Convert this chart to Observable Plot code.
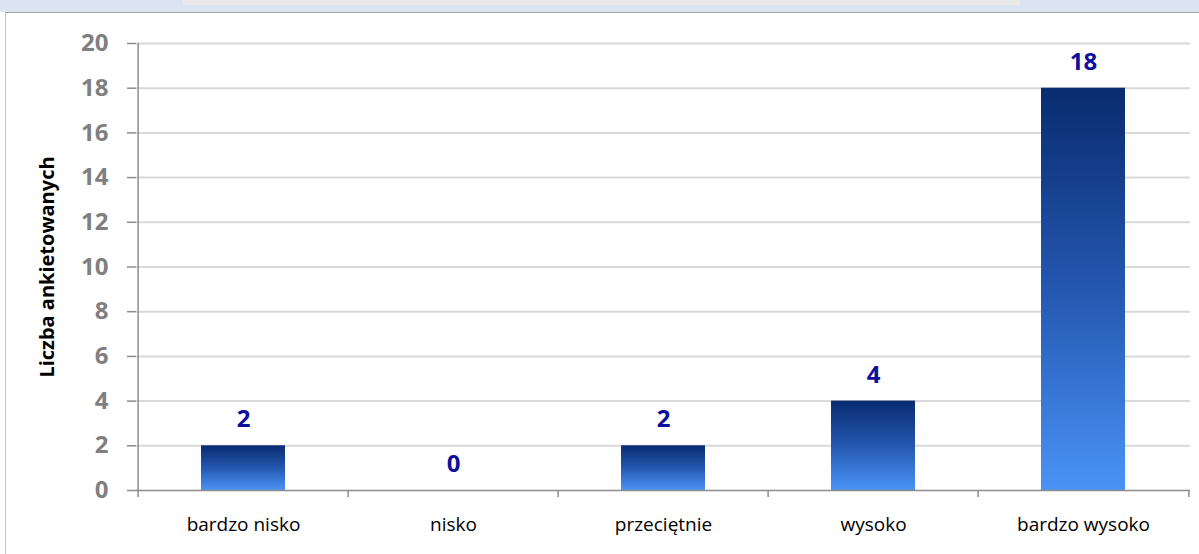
<!DOCTYPE html>
<html><head><meta charset="utf-8">
<script src="https://cdn.jsdelivr.net/npm/d3@7"></script>
<script src="https://cdn.jsdelivr.net/npm/@observablehq/plot@0.6"></script>
<style>
html,body{margin:0;padding:0;background:#fff;width:1199px;height:554px;overflow:hidden;font-family:"Open Sans",sans-serif}
#band{position:absolute;left:0;top:0;width:1199px;height:12px;background:#dbe5f1}
#titlebox{position:absolute;left:183px;top:0;width:837px;height:5px;background:#e9e9e9}
#frame{position:absolute;left:5px;top:12px;width:1194px;height:542px;border-top:1px solid #a6a6a6;border-left:1px solid #c4c4c4}
#chart{position:absolute;left:0;top:14px}
</style></head><body>
<div id="band"><div id="titlebox"></div></div>
<div id="frame"></div>
<div id="chart"></div>
<script>
const categories = ["bardzo nisko", "nisko", "przeciętnie", "wysoko", "bardzo wysoko"];
const counts = [2, 0, 2, 4, 18];
const yTicks = [0, 2, 4, 6, 8, 10, 12, 14, 16, 18, 20];
const yLabel = "Liczba ankietowanych";

const data = categories.map((c, i) => ({category: c, value: counts[i]}));

const W = 1199, H = 540, mL = 136, mR = 9, mT = 29, mB = 64;
const step = (W - mL - mR) / categories.length;
const frameH = H - mT - mB;

const gradient = () => {
  const defs = document.createElementNS("http://www.w3.org/2000/svg", "defs");
  defs.innerHTML = `<linearGradient id="barGrad" x1="0" y1="0" x2="0" y2="1">
    <stop offset="0" stop-color="#0a2c70"/>
    <stop offset="0.08" stop-color="#0d3279"/>
    <stop offset="0.5" stop-color="#2457b0"/>
    <stop offset="1" stop-color="#4a93f6"/>
  </linearGradient>`;
  return defs;
};

const chart = Plot.plot({
  width: W, height: H,
  marginLeft: mL, marginRight: mR, marginTop: mT, marginBottom: mB,
  style: {fontFamily: "'Open Sans', sans-serif", background: "transparent"},
  x: {domain: categories, paddingInner: 0.6, paddingOuter: 0.3, label: null},
  y: {domain: [0, 20], label: null},
  marks: [
    gradient,
    Plot.ruleY(yTicks.filter(t => t > 0), {stroke: "#d9d9d9", strokeWidth: 2}),
    Plot.barY(data, {x: "category", y: "value", fill: "url(#barGrad)"}),
    Plot.ruleY([0], {stroke: "#8c8c8c", strokeWidth: 1.5}),
    Plot.ruleX([categories[0]], {dx: -step / 2, stroke: "#8c8c8c", strokeWidth: 1.5, insetBottom: -7}),
    Plot.ruleX(categories.slice(1), {dx: -step / 2, stroke: "#8c8c8c", strokeWidth: 1.5, insetTop: frameH, insetBottom: -7}),
    Plot.ruleX([categories[categories.length - 1]], {dx: step / 2, stroke: "#8c8c8c", strokeWidth: 1.5, insetTop: frameH, insetBottom: -7}),
    Plot.axisY({ticks: yTicks, tickSize: 9, tickPadding: 19, fontSize: 24, fontWeight: "bold", fill: "#7f7f7f", stroke: "#8c8c8c", strokeWidth: 1.5, label: null}),
    Plot.axisX({tickSize: 0, tickPadding: 27, fontSize: 19, fontWeight: 500, fill: "#000", label: null}),
    Plot.text(data, {x: "category", y: "value", text: d => String(d.value), dy: -26, fill: "#0d0d9e", fontSize: 24, fontWeight: "bold"}),
    Plot.text([yLabel], {text: d => d, frameAnchor: "left", textAnchor: "middle", dx: -89, rotate: -90, fill: "#000", fontSize: 20, fontWeight: "bold"})
  ]
});
document.getElementById("chart").appendChild(chart);
</script>
</body></html>
